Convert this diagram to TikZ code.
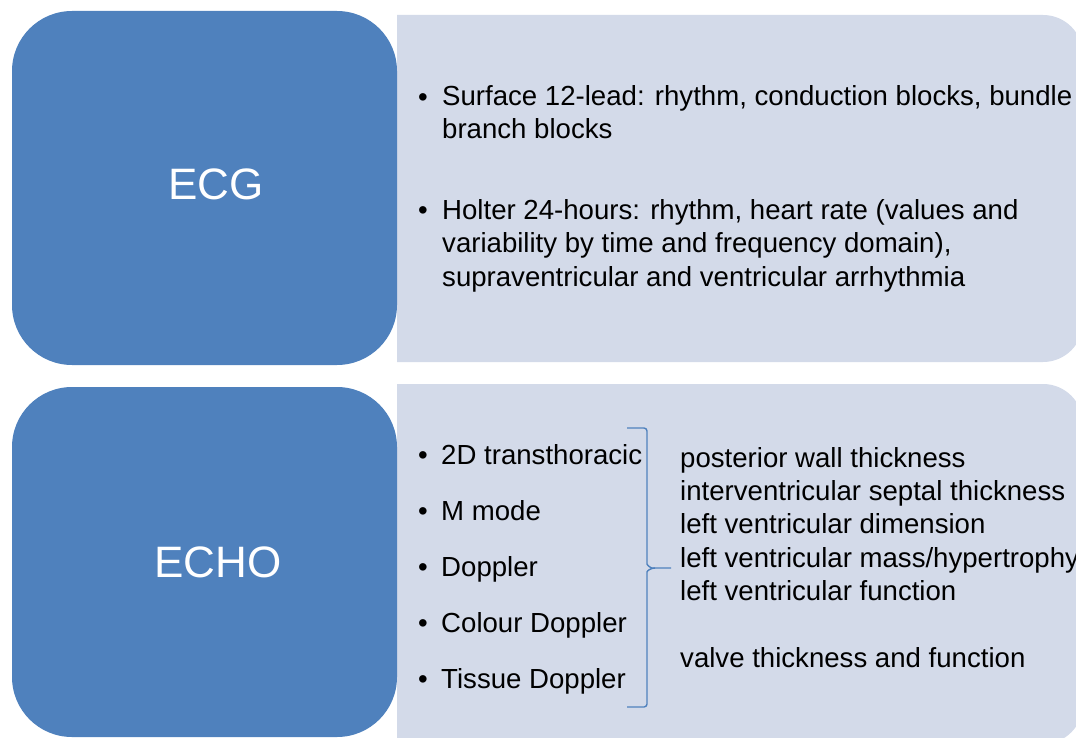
\documentclass[tikz,border=0pt]{standalone}
\usepackage{fontspec}
\setmainfont{Liberation Sans}
\usetikzlibrary{positioning}
\definecolor{boxblue}{RGB}{79,129,189}
\definecolor{boxgrey}{RGB}{211,218,233}

\begin{document}
\begin{tikzpicture}[x=1pt, y=-1pt,
    head/.style={rectangle, rounded corners=60pt, fill=boxblue, minimum width=385pt, inner sep=0pt},
    title/.style={text=white, inner sep=0pt, font=\fontsize{44}{48}\selectfont},
    item/.style={inner sep=0pt, align=left, anchor=base west, font=\fontsize{27.6}{33.3}\selectfont},
    dot/.style={anchor=base, inner sep=0pt, font=\fontsize{27.6}{33.3}\selectfont},
    brace/.style={boxblue, line width=1.4pt, rounded corners=3pt}]
    \useasboundingbox (0,0) rectangle (1076,738);
    \clip (0,0) rectangle (1076,738);

    % Panels
    \fill[boxgrey] (397,15) -- (1043,15) arc[start angle=-90, end angle=0, radius=40]
        -- (1083,322) arc[start angle=0, end angle=90, radius=40] -- (397,362) -- cycle;
    \fill[boxgrey] (397,384) -- (1043,384) arc[start angle=-90, end angle=0, radius=40]
        -- (1083,704) arc[start angle=0, end angle=90, radius=40] -- (397,744) -- cycle;

    % Nodes
    \node (ecgbox) [head, minimum height=354pt] at (204.5,188) {};
    \node (echobox) [head, minimum height=350pt] at (204.5,562) {};
    \node (ecg) [title] at (216,184) {ECG};
    \node (echo) [title] at (218,562) {ECHO};

    % ECG list (multi-line nodes sit on their last baseline)
    \node (dot1) [dot] at (423,107) {•};
    \node (surface) [item] at (442,139) {Surface 12-lead: rhythm, conduction blocks, bundle\\branch blocks};
    \node (dot2) [dot] at (423,219) {•};
    \node (holter) [item] at (442,286) {Holter 24-hours: rhythm, heart rate (values and\\variability by time and frequency domain),\\supraventricular and ventricular arrhythmia};

    % ECHO list
    \node (dot3) [dot] at (423,464) {•};
    \node (twod) [item, base right=13pt of dot3] {2D transthoracic};
    \node (dot4) [dot] at (423,520) {•};
    \node (mmode) [item, base right=13pt of dot4] {M mode};
    \node (dot5) [dot] at (423,576) {•};
    \node (doppler) [item, base right=13pt of dot5] {Doppler};
    \node (dot6) [dot] at (423,632) {•};
    \node (colour) [item, base right=13pt of dot6] {Colour Doppler};
    \node (dot7) [dot] at (423,688) {•};
    \node (tissue) [item, base right=13pt of dot7] {Tissue Doppler};

    \node (measures) [item] at (680,667) {posterior wall thickness\\interventricular septal thickness\\left ventricular dimension\\left ventricular mass/hypertrophy\\left ventricular function\\[33.4pt]valve thickness and function};

    % Brace
    \coordinate (btop) at (627,428);
    \coordinate (bbot) at (627,707);
    \coordinate (btip) at (671,568);
    \draw[brace] (btop) -- (647,428) -- (647,561) to[out=-90, in=180] (655,568) -- (btip);
    \draw[brace] (bbot) -- (647,707) -- (647,575) to[out=90, in=180] (655,568);
\end{tikzpicture}
\end{document}
